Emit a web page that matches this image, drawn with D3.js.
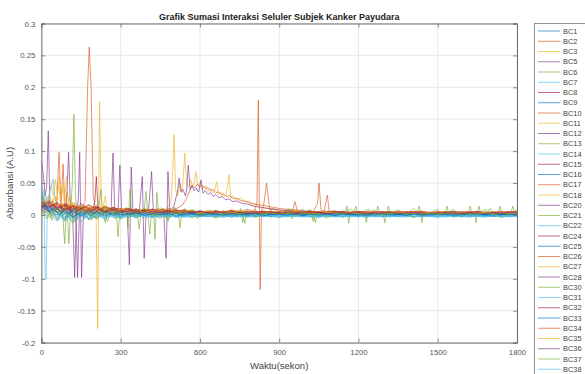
<!DOCTYPE html>
<html><head><meta charset="utf-8">
<script src="https://cdn.jsdelivr.net/npm/d3@7"></script>
<style>body{margin:0;background:#fff;overflow:hidden;} text{font-family:Arial,"Liberation Sans",Helvetica,sans-serif;}</style>
</head><body>
<svg id="chart" width="585" height="374"></svg>
<script>
const titleText = "Grafik Sumasi Interaksi Seluler Subjek Kanker Payudara";
const xLabelText = "Waktu(sekon)";
const yLabelText = "Absorbansi (A.U)";
const seriesNames = ["BC1","BC2","BC3","BC5","BC6","BC7","BC8","BC9","BC10","BC11","BC12","BC13","BC14","BC15","BC16","BC17","BC18","BC20","BC21","BC22","BC24","BC25","BC26","BC27","BC28","BC30","BC31","BC32","BC33","BC34","BC35","BC36","BC37","BC38"];
const seriesColors = ["#0072BD","#D95319","#EDB120","#7E2F8E","#77AC30","#4DBEEE","#A2142F"];
const xTicks = [0,300,600,900,1200,1500,1800];
const yTicks = [-0.2,-0.15,-0.1,-0.05,0,0.05,0.1,0.15,0.2,0.25,0.3];
const yTickLabels = ["-0.2","-0.15","-0.1","-0.05","0","0.05","0.1","0.15","0.2","0.25","0.3"];

const tBase = [0,30,60,90,120,150,180,210,240,270,300,330,360,390,420,450,480,510,540,570,600,630,660,690,720,750,780,810,840,870,900,930,960,990,1020,1050,1080,1110,1140,1170,1200,1230,1260,1290,1320,1350,1380,1410,1440,1470,1500,1530,1560,1590,1620,1650,1680,1710,1740,1770,1800];

// Series sampled on tBase
const BC1 = [0.030,0.012,0.004,0.008,-0.004,0.006,0.002,-0.005,0.004,0.001,-0.003, 0.003,-0.002,0.002,-0.004,0.001,-0.002,0.003,-0.001,0.000,-0.003, 0.001,-0.002,0.000,-0.003,0.001,-0.001,-0.002,0.000,-0.003,0.001, -0.002,0.000,-0.001,-0.003,0.001,-0.002,0.000,-0.002,0.001,-0.003, 0.000,-0.001,-0.002,0.001,-0.002,0.000,-0.003,0.000,-0.001,-0.002, 0.001,-0.002,0.000,-0.003,0.000,-0.001,-0.002,0.001,-0.002,0.000];
const BC9 = [0.025,0.008,0.010,-0.003,0.005,0.000,0.007,-0.002,0.003,0.006,0.000, 0.002,0.004,-0.001,0.003,0.000,0.002,-0.002,0.004,0.001,0.000, 0.002,-0.001,0.001,0.003,-0.001,0.000,0.002,-0.002,0.001,0.000, 0.002,-0.001,0.000,0.001,-0.002,0.001,0.000,0.002,-0.001,0.000, 0.001,-0.002,0.000,0.002,-0.001,0.000,0.001,-0.002,0.000,0.001, -0.001,0.000,0.002,-0.001,0.000,0.001,-0.002,0.000,0.001,-0.001];
const BC14 = [0.040,0.015,-0.008,0.004,-0.012,0.002,-0.006,0.003,-0.004,0.001,-0.006, 0.000,-0.004,0.002,-0.003,-0.001,-0.005,0.001,-0.002,-0.004,0.000, -0.002,-0.003,0.000,-0.004,-0.001,-0.002,-0.003,0.000,-0.002,-0.004, -0.001,-0.003,0.000,-0.002,-0.004,-0.001,-0.002,-0.003,0.000,-0.002, -0.004,-0.001,-0.002,-0.003,0.000,-0.002,-0.003,-0.001,-0.002,-0.004, 0.000,-0.002,-0.003,-0.001,-0.002,-0.003,0.000,-0.002,-0.003,-0.001];
const BC15 = [0.020,0.018,0.012,0.016,0.010,0.014,0.008,0.012,0.006,0.010,0.007, 0.009,0.006,0.008,0.005,0.007,0.006,0.008,0.005,0.006,0.004, 0.006,0.005,0.004,0.006,0.003,0.005,0.004,0.006,0.003,0.005, 0.004,0.003,0.005,0.004,0.003,0.005,0.004,0.003,0.004,0.005, 0.003,0.004,0.005,0.003,0.004,0.003,0.005,0.004,0.003,0.004, 0.005,0.003,0.004,0.003,0.005,0.004,0.003,0.004,0.003,0.004];
const BC16 = [0.015,0.010,0.004,-0.006,0.008,0.002,-0.004,0.006,0.000,0.004,-0.002, 0.003,0.000,0.004,-0.001,0.002,0.000,0.003,-0.002,0.002,0.001, 0.000,0.002,-0.001,0.001,0.002,0.000,-0.001,0.002,0.000,0.001, -0.001,0.002,0.000,0.001,-0.001,0.002,0.000,0.001,0.002,-0.001, 0.001,0.000,0.002,-0.001,0.001,0.000,0.002,0.000,-0.001,0.001, 0.002,0.000,0.001,-0.001,0.002,0.000,0.001,0.000,0.002,0.001];
const BC22 = [0.035,0.006,-0.010,0.002,-0.006,0.004,-0.008,0.000,-0.004,0.002,-0.006, -0.001,-0.004,0.001,-0.003,-0.002,0.000,-0.004,-0.001,-0.003,0.000, -0.002,-0.001,-0.003,0.000,-0.002,-0.003,-0.001,-0.002,0.000,-0.003, -0.002,-0.001,-0.003,-0.002,0.000,-0.002,-0.003,-0.001,-0.002,-0.003, -0.001,-0.002,0.000,-0.003,-0.002,-0.001,-0.002,-0.003,0.000,-0.002, -0.003,-0.001,-0.002,0.000,-0.002,-0.003,-0.001,-0.002,-0.001,-0.002];
const BC24 = [0.012,0.020,0.010,0.015,0.006,0.018,0.009,0.014,0.005,0.012,0.008, 0.010,0.006,0.009,0.004,0.008,0.005,0.007,0.004,0.006,0.005, 0.004,0.006,0.003,0.005,0.004,0.003,0.005,0.004,0.006,0.003, 0.004,0.005,0.003,0.004,0.005,0.003,0.004,0.006,0.003,0.004, 0.005,0.003,0.004,0.003,0.005,0.004,0.003,0.005,0.004,0.003, 0.004,0.005,0.003,0.004,0.005,0.003,0.004,0.003,0.005,0.004];
const BC25 = [0.028,0.005,0.009,0.002,0.006,-0.002,0.005,0.001,0.007,-0.001,0.004, 0.001,0.003,0.000,0.002,0.004,0.000,0.002,0.001,0.003,0.000, 0.002,0.001,0.000,0.002,0.001,0.003,0.000,0.001,0.002,0.000, 0.001,0.002,0.000,0.001,0.003,0.000,0.001,0.002,0.000,0.001, 0.002,0.000,0.001,0.002,0.001,0.000,0.002,0.001,0.000,0.002, 0.001,0.000,0.002,0.001,0.000,0.001,0.002,0.000,0.001,0.002];
const BC26 = [0.022,0.014,0.018,0.008,0.016,0.010,0.012,0.006,0.014,0.008,0.010, 0.006,0.009,0.005,0.008,0.006,0.010,0.004,0.007,0.005,0.006, 0.005,0.004,0.006,0.003,0.005,0.004,0.006,0.003,0.005,0.004, 0.003,0.005,0.004,0.006,0.003,0.004,0.005,0.003,0.004,0.005, 0.003,0.004,0.005,0.004,0.003,0.005,0.004,0.003,0.004,0.005, 0.003,0.004,0.003,0.005,0.004,0.003,0.004,0.005,0.003,0.004];
const BC27 = [0.018,0.030,0.012,0.022,0.008,0.014,0.006,0.016,0.004,0.010,0.006, 0.008,0.004,0.010,0.003,0.007,0.005,0.009,0.004,0.006,0.003, 0.005,0.003,0.006,0.004,0.002,0.005,0.003,0.004,0.006,0.002, 0.004,0.003,0.005,0.002,0.004,0.003,0.005,0.004,0.002,0.004, 0.003,0.005,0.002,0.004,0.003,0.004,0.002,0.005,0.003,0.004, 0.002,0.004,0.003,0.005,0.003,0.004,0.002,0.004,0.003,0.004];
const BC28 = [0.010,0.016,0.004,0.012,0.002,0.010,0.006,0.012,0.003,0.008,0.005, 0.007,0.003,0.006,0.002,0.005,0.004,0.006,0.002,0.005,0.003, 0.004,0.002,0.005,0.003,0.004,0.002,0.003,0.005,0.002,0.004, 0.003,0.002,0.004,0.003,0.005,0.002,0.003,0.004,0.002,0.003, 0.004,0.002,0.003,0.005,0.002,0.003,0.004,0.002,0.003,0.004, 0.002,0.003,0.004,0.002,0.003,0.004,0.002,0.003,0.004,0.003];
const BC30 = [0.008,0.002,0.012,-0.010,0.006,0.014,-0.008,0.010,0.000,0.012,-0.006, 0.006,-0.004,0.008,0.002,-0.006,0.006,0.001,0.008,-0.004,0.004, 0.002,0.006,-0.002,0.003,0.008,-0.003,0.002,0.001,0.006,-0.004, 0.002,0.003,0.009,-0.002,0.002,0.001,0.007,-0.004,0.003,0.002, 0.001,0.008,-0.003,0.002,0.003,0.001,0.010,-0.002,0.002,0.001, 0.006,-0.004,0.003,0.002,0.001,0.009,-0.002,0.003,0.001,0.008];
const BC31 = [0.045,0.020,0.002,-0.008,0.004,-0.010,0.000,-0.006,0.003,-0.004,0.000, -0.003,0.001,-0.002,-0.004,0.000,-0.003,-0.001,-0.002,0.000,-0.003, -0.001,-0.002,-0.004,0.000,-0.002,-0.001,-0.003,0.000,-0.002,-0.001, -0.003,0.000,-0.002,-0.001,-0.003,-0.002,0.000,-0.001,-0.003,-0.002, 0.000,-0.001,-0.003,-0.002,-0.001,0.000,-0.002,-0.003,-0.001,-0.002, 0.000,-0.003,-0.001,-0.002,0.000,-0.002,-0.001,-0.003,-0.002,-0.001];
const BC32 = [0.015,0.012,0.020,0.008,0.014,0.010,0.016,0.007,0.012,0.009,0.006, 0.008,0.005,0.007,0.009,0.004,0.006,0.005,0.008,0.004,0.005, 0.004,0.006,0.003,0.005,0.004,0.006,0.003,0.004,0.005,0.003, 0.005,0.004,0.003,0.005,0.004,0.003,0.005,0.004,0.003,0.005, 0.004,0.003,0.005,0.004,0.003,0.004,0.005,0.003,0.004,0.003, 0.005,0.004,0.003,0.004,0.005,0.003,0.004,0.003,0.004,0.005];
const BC33 = [0.020,0.004,0.000,0.006,-0.003,0.004,0.000,0.005,-0.002,0.003,0.001, 0.000,0.003,-0.001,0.002,0.000,0.003,-0.002,0.001,0.002,-0.001, 0.001,0.000,0.002,-0.001,0.001,0.000,0.002,-0.001,0.000,0.001, 0.000,0.002,-0.001,0.001,0.000,0.001,-0.001,0.002,0.000,0.001, -0.001,0.000,0.002,0.000,0.001,-0.001,0.001,0.000,0.002,0.000, 0.001,-0.001,0.000,0.002,0.001,0.000,-0.001,0.001,0.000,0.001];
const BC34 = [0.016,0.022,0.010,0.018,0.012,0.008,0.015,0.010,0.006,0.012,0.008, 0.010,0.007,0.005,0.009,0.006,0.008,0.005,0.007,0.006,0.004, 0.006,0.004,0.005,0.007,0.003,0.005,0.004,0.006,0.004,0.005, 0.003,0.006,0.004,0.005,0.003,0.004,0.006,0.004,0.003,0.005, 0.004,0.006,0.003,0.004,0.005,0.003,0.004,0.006,0.003,0.004, 0.005,0.003,0.004,0.005,0.004,0.003,0.005,0.004,0.003,0.004];
const BC35 = [0.025,0.015,0.028,0.010,0.020,0.006,0.012,0.008,0.014,0.005,0.009, 0.006,0.008,0.004,0.007,0.005,0.009,0.004,0.006,0.008,0.004, 0.006,0.004,0.005,0.003,0.006,0.004,0.005,0.003,0.004,0.006, 0.003,0.005,0.004,0.003,0.006,0.004,0.003,0.005,0.004,0.003, 0.005,0.003,0.004,0.006,0.003,0.004,0.005,0.003,0.004,0.003, 0.005,0.004,0.003,0.005,0.003,0.004,0.005,0.003,0.004,0.003];
const BC36 = [0.012,0.006,0.014,0.004,0.010,0.008,0.003,0.011,0.005,0.009,0.004, 0.006,0.008,0.003,0.006,0.004,0.007,0.003,0.005,0.004,0.006, 0.003,0.004,0.005,0.002,0.004,0.003,0.005,0.002,0.004,0.003, 0.004,0.002,0.005,0.003,0.004,0.002,0.003,0.005,0.003,0.004, 0.002,0.004,0.003,0.005,0.002,0.003,0.004,0.003,0.002,0.004, 0.003,0.005,0.002,0.004,0.003,0.002,0.004,0.003,0.004,0.003];
const BC37 = [0.006,-0.004,0.010,0.002,-0.012,0.008,0.004,-0.006,0.012,0.000,0.006, -0.004,0.004,0.010,-0.002,0.003,-0.006,0.005,0.002,0.008,-0.002, 0.003,-0.005,0.002,0.004,0.001,0.007,-0.004,0.002,0.003,0.001, 0.008,-0.002,0.003,0.001,0.002,-0.005,0.003,0.001,0.009,0.002, -0.003,0.002,0.001,0.003,0.008,0.001,-0.004,0.002,0.003,0.001, 0.002,0.009,-0.003,0.002,0.001,0.003,0.002,-0.004,0.002,0.003];
const BC38 = [0.030,0.010,-0.004,0.006,-0.008,0.002,-0.005,0.001,-0.007,0.000,-0.003, -0.001,-0.004,0.000,-0.002,-0.003,0.001,-0.002,-0.004,-0.001,-0.002, -0.003,0.000,-0.002,-0.001,-0.003,-0.002,0.000,-0.003,-0.001,-0.002, 0.000,-0.002,-0.003,-0.001,-0.002,0.000,-0.003,-0.002,-0.001,-0.002, -0.003,0.000,-0.002,-0.001,-0.003,-0.002,0.000,-0.002,-0.003,-0.001, -0.002,0.000,-0.003,-0.001,-0.002,-0.003,0.000,-0.002,-0.001,-0.002];

// Series with their own [time, value] samples
const BC2 = [[0,0.018],[10,0.012],[20,0.022],[30,0.014],[40,0.02],[50,0.01],[58,0.018],[67,0.098],[74,0.012],[82,0.08],[89,0.01],[100,0.016],[110,0.008],[120,0.014],[130,0.006],[140,0.012],[150,0.006],[158,0.014],[165,0.02],[175,0.2],[181,0.263],[188,0.2],[196,0.03],[205,0.01],[215,0.014],[230,0.006],[245,0.012],[260,0.005],[280,0.01],[300,0.004],[330,0.008],[360,0.003],[390,0.007],[420,0.003],[450,0.006],[480,0.002],[510,0.005],[540,0.003],[570,0.006],[600,0.002],[660,0.005],[720,0.003],[780,0.004],[840,0.002],[900,0.004],[960,0.003],[1020,0.005],[1080,0.002],[1140,0.004],[1200,0.003],[1260,0.004],[1320,0.002],[1380,0.004],[1440,0.003],[1500,0.004],[1560,0.002],[1620,0.004],[1680,0.003],[1740,0.004],[1800,0.003]];
const BC3 = [[0,0.012],[10,0.022],[20,0.015],[30,0.032],[38,0.048],[45,0.03],[53,0.055],[60,0.035],[68,0.06],[75,0.03],[83,0.048],[90,0.022],[98,0.035],[108,0.012],[118,0.018],[128,0.006],[138,0.012],[148,0.004],[160,0.012],[170,0.006],[182,0.01],[192,0.004],[200,0.008],[207,0.0],[213,-0.178],[220,0.177],[227,0.01],[236,0.004],[248,0.012],[262,0.004],[280,0.009],[300,0.004],[330,0.008],[360,0.004],[390,0.007],[420,0.003],[450,0.006],[480,0.004],[510,0.006],[540,0.003],[570,0.005],[600,0.003],[660,0.004],[720,0.003],[780,0.005],[840,0.003],[900,0.004],[960,0.003],[1020,0.004],[1080,0.003],[1140,0.005],[1200,0.003],[1260,0.004],[1320,0.003],[1380,0.004],[1440,0.003],[1500,0.005],[1560,0.003],[1620,0.004],[1680,0.003],[1740,0.004],[1800,0.003]];
const BC5 = [[0,0.086],[7,0.065],[14,0.03],[20,0.045],[26,0.132],[32,0.02],[40,0.012],[50,0.018],[60,0.008],[72,0.014],[85,0.006],[98,0.012],[112,0.004],[125,0.01],[140,0.005],[155,0.012],[170,0.004],[185,0.009],[200,0.003],[220,0.008],[240,0.004],[260,0.009],[280,0.003],[300,0.006],[330,0.003],[360,0.006],[390,0.003],[420,0.005],[450,0.002],[480,0.005],[510,0.003],[540,0.004],[570,0.002],[600,0.004],[660,0.003],[720,0.004],[780,0.002],[840,0.004],[900,0.003],[960,0.004],[1020,0.002],[1080,0.003],[1140,0.004],[1200,0.002],[1260,0.003],[1320,0.004],[1380,0.002],[1440,0.003],[1500,0.004],[1560,0.002],[1620,0.003],[1680,0.004],[1740,0.002],[1800,0.003]];
const BC6 = [[0,0.01],[12,0.004],[25,0.014],[38,-0.004],[50,0.01],[62,0.002],[72,0.012],[80,0.006],[88,-0.045],[96,0.02],[104,-0.045],[111,0.01],[117,0.05],[123,0.158],[129,0.03],[136,0.004],[148,0.012],[160,-0.006],[172,0.008],[185,-0.002],[198,0.01],[210,0.002],[218,0.012],[225,0.04],[232,0.004],[242,-0.012],[252,0.008],[265,0.0],[276,0.01],[283,0.008],[290,-0.034],[297,0.01],[310,0.004],[330,0.008],[360,0.002],[390,0.006],[420,0.002],[450,0.005],[480,0.001],[510,0.004],[540,0.002],[570,0.005],[600,0.002],[660,0.004],[720,0.001],[780,0.004],[840,0.002],[900,0.004],[960,0.001],[1020,0.003],[1080,0.002],[1140,0.004],[1200,0.001],[1260,0.003],[1320,0.002],[1380,0.004],[1440,0.001],[1500,0.003],[1560,0.002],[1620,0.004],[1680,0.001],[1740,0.003],[1800,0.002]];
const BC7 = [[0,0.03],[5,0.036],[10,0.02],[14,-0.095],[18,-0.1],[22,0.0],[28,0.03],[35,0.042],[44,0.056],[50,0.032],[58,0.01],[65,-0.006],[75,0.004],[85,-0.01],[95,0.0],[108,-0.006],[120,0.002],[135,-0.008],[150,0.0],[165,-0.005],[180,0.001],[200,-0.004],[220,0.0],[240,-0.006],[260,-0.001],[280,-0.004],[300,0.0],[330,-0.003],[360,-0.001],[390,-0.004],[420,-0.001],[450,-0.003],[480,0.0],[510,-0.003],[540,-0.001],[570,-0.003],[600,-0.001],[660,-0.003],[720,-0.001],[780,-0.003],[840,-0.002],[900,-0.003],[960,-0.001],[1020,-0.003],[1080,-0.002],[1140,-0.003],[1200,-0.001],[1260,-0.003],[1320,-0.002],[1380,-0.003],[1440,-0.001],[1500,-0.003],[1560,-0.002],[1620,-0.003],[1680,-0.001],[1740,-0.003],[1800,-0.002]];
const BC8 = [[0,0.02],[15,0.014],[30,0.022],[45,0.012],[60,0.018],[75,0.01],[90,0.016],[105,0.008],[120,0.015],[135,0.009],[150,0.014],[165,0.008],[180,0.012],[195,0.01],[202,0.02],[208,0.06],[214,0.012],[225,0.008],[240,0.014],[255,0.006],[270,0.012],[285,0.005],[300,0.01],[330,0.006],[360,0.009],[390,0.005],[420,0.008],[450,0.004],[480,0.007],[510,0.004],[540,0.006],[570,0.004],[600,0.005],[660,0.004],[720,0.005],[780,0.003],[840,0.005],[900,0.004],[960,0.003],[1020,0.005],[1080,0.004],[1140,0.003],[1200,0.005],[1260,0.004],[1320,0.003],[1380,0.005],[1440,0.004],[1500,0.003],[1560,0.005],[1620,0.004],[1680,0.003],[1740,0.005],[1800,0.004]];
const BC10 = [[0,0.012],[20,0.02],[40,0.01],[60,0.016],[80,0.008],[100,0.014],[120,0.006],[140,0.012],[160,0.005],[180,0.01],[200,0.006],[220,0.012],[240,0.005],[260,0.009],[280,0.004],[300,0.008],[330,0.004],[360,0.007],[390,0.003],[420,0.006],[450,0.004],[480,0.007],[510,0.004],[540,0.006],[570,0.003],[600,0.006],[630,0.004],[660,0.007],[690,0.004],[720,0.008],[750,0.005],[780,0.009],[800,0.006],[810,0.01],[816,0.02],[821,0.18],[825,0.0],[828,-0.117],[833,0.008],[840,0.012],[846,0.03],[852,0.05],[858,0.03],[864,0.008],[880,0.01],[900,0.005],[930,0.008],[950,0.006],[960,0.021],[968,0.006],[990,0.004],[1010,0.007],[1030,0.005],[1045,0.018],[1051,0.05],[1058,0.008],[1070,0.006],[1082,0.031],[1090,0.004],[1120,0.005],[1150,0.003],[1200,0.005],[1250,0.003],[1300,0.004],[1350,0.003],[1400,0.005],[1450,0.003],[1500,0.004],[1550,0.003],[1600,0.005],[1650,0.003],[1700,0.004],[1750,0.003],[1800,0.004]];
const BC11 = [[0,0.015],[20,0.008],[40,0.018],[60,0.01],[80,0.016],[100,0.006],[120,0.012],[140,0.005],[160,0.01],[180,0.004],[200,0.009],[220,0.005],[240,0.01],[260,0.004],[280,0.008],[300,0.004],[330,0.009],[360,0.005],[390,0.01],[420,0.006],[450,0.011],[470,0.008],[482,0.014],[490,0.02],[496,0.06],[502,0.126],[508,0.04],[515,0.03],[525,0.05],[532,0.035],[537,0.06],[543,0.097],[549,0.05],[556,0.044],[565,0.055],[572,0.044],[578,0.05],[585,0.068],[592,0.045],[600,0.05],[610,0.041],[620,0.046],[630,0.037],[640,0.041],[650,0.034],[657,0.04],[663,0.052],[670,0.033],[680,0.036],[690,0.028],[700,0.032],[710,0.063],[717,0.026],[725,0.03],[740,0.024],[755,0.027],[770,0.02],[785,0.022],[800,0.015],[815,0.017],[830,0.012],[860,0.01],[890,0.008],[920,0.006],[960,0.007],[1000,0.004],[1050,0.005],[1100,0.003],[1150,0.005],[1200,0.003],[1250,0.004],[1300,0.003],[1350,0.005],[1400,0.003],[1450,0.004],[1500,0.003],[1550,0.005],[1600,0.003],[1650,0.004],[1700,0.003],[1750,0.005],[1800,0.003]];
const BC12 = [[0,0.01],[15,0.004],[30,0.012],[45,0.004],[60,0.01],[75,0.003],[88,0.012],[95,0.02],[103,0.098],[110,0.01],[118,0.004],[126,-0.098],[133,0.008],[139,0.02],[145,0.098],[152,-0.098],[159,0.002],[170,0.01],[185,0.004],[200,0.01],[215,0.002],[230,0.008],[245,0.003],[255,0.012],[263,0.0],[271,0.097],[278,0.0],[285,0.01],[290,0.002],[297,0.078],[304,0.0],[315,0.01],[325,0.002],[333,-0.078],[340,0.075],[347,0.0],[358,0.01],[370,0.004],[382,0.06],[389,-0.068],[396,0.004],[406,0.01],[417,0.068],[424,0.004],[438,0.01],[452,0.0],[462,0.01],[472,-0.068],[479,0.068],[486,0.004],[500,0.01],[520,0.004],[540,0.008],[570,0.003],[600,0.006],[660,0.003],[720,0.005],[780,0.002],[840,0.004],[900,0.003],[960,0.004],[1020,0.002],[1080,0.004],[1140,0.003],[1200,0.004],[1260,0.002],[1320,0.004],[1380,0.003],[1440,0.004],[1500,0.002],[1560,0.004],[1620,0.003],[1680,0.004],[1740,0.002],[1800,0.003]];
const BC13 = [[0,0.004],[20,0.012],[40,-0.008],[60,0.01],[80,0.002],[100,0.014],[120,-0.006],[140,0.008],[160,0.0],[180,0.012],[200,-0.004],[220,0.006],[240,0.002],[260,0.01],[280,-0.006],[300,0.004],[330,0.008],[360,-0.004],[390,0.006],[420,0.0],[450,0.008],[480,-0.003],[510,0.005],[540,0.001],[570,0.006],[600,-0.002],[630,0.004],[660,0.001],[690,0.006],[720,0.0],[745,0.004],[760,0.002],[770,-0.013],[778,0.004],[800,0.002],[830,0.005],[860,0.001],[890,0.004],[920,0.002],[950,0.006],[980,0.001],[1010,0.004],[1030,0.002],[1037,-0.012],[1044,0.004],[1070,0.002],[1100,0.004],[1130,0.001],[1150,0.004],[1157,0.014],[1163,-0.013],[1170,0.004],[1183,0.003],[1190,0.014],[1197,0.002],[1223,0.003],[1230,-0.012],[1237,0.003],[1260,0.002],[1267,0.003],[1273,0.014],[1280,0.002],[1293,0.003],[1300,-0.012],[1307,0.003],[1313,0.014],[1320,0.002],[1360,0.003],[1400,0.002],[1423,0.003],[1430,0.014],[1436,0.0],[1440,-0.012],[1447,0.003],[1490,0.002],[1528,0.003],[1535,0.014],[1542,0.002],[1580,0.003],[1616,0.003],[1623,0.014],[1630,0.002],[1638,0.003],[1645,-0.012],[1650,0.003],[1656,0.014],[1663,0.002],[1700,0.003],[1728,0.002],[1735,0.014],[1742,0.002],[1777,0.003],[1784,0.014],[1791,0.002],[1800,0.003]];
const BC17 = [[0,0.02],[20,0.014],[40,0.022],[60,0.012],[80,0.018],[100,0.01],[120,0.015],[140,0.008],[160,0.013],[180,0.007],[200,0.012],[220,0.006],[240,0.01],[260,0.005],[280,0.009],[300,0.004],[330,0.008],[360,0.004],[390,0.007],[420,0.005],[450,0.008],[480,0.006],[510,0.01],[530,0.014],[545,0.022],[558,0.035],[570,0.046],[580,0.042],[590,0.048],[600,0.044],[610,0.046],[620,0.041],[630,0.043],[640,0.038],[650,0.04],[660,0.035],[670,0.036],[680,0.032],[690,0.033],[700,0.029],[712,0.03],[725,0.026],[740,0.026],[755,0.022],[770,0.022],[785,0.019],[800,0.018],[820,0.016],[840,0.015],[860,0.013],[880,0.012],[900,0.01],[930,0.009],[960,0.008],[1000,0.006],[1050,0.005],[1100,0.006],[1150,0.004],[1200,0.005],[1260,0.003],[1320,0.005],[1380,0.004],[1440,0.005],[1500,0.003],[1560,0.004],[1620,0.005],[1680,0.003],[1740,0.004],[1800,0.005]];
const BC18 = [[0,0.02],[10,0.03],[20,0.018],[30,0.025],[40,0.015],[50,0.03],[58,0.02],[65,0.045],[72,0.025],[80,0.04],[87,0.02],[95,0.06],[102,0.02],[110,0.03],[118,0.012],[128,0.02],[140,0.008],[152,0.016],[165,0.006],[178,0.012],[190,0.005],[205,0.01],[220,0.004],[235,0.014],[242,0.03],[249,0.006],[262,0.01],[280,0.004],[300,0.008],[330,0.004],[360,0.007],[390,0.003],[420,0.006],[450,0.003],[480,0.005],[510,0.003],[540,0.006],[570,0.003],[600,0.005],[660,0.003],[720,0.005],[780,0.003],[840,0.004],[900,0.003],[960,0.005],[1020,0.003],[1080,0.004],[1140,0.002],[1200,0.004],[1260,0.003],[1320,0.005],[1380,0.003],[1440,0.004],[1500,0.002],[1560,0.004],[1620,0.003],[1680,0.005],[1740,0.003],[1800,0.004]];
const BC20 = [[0,0.015],[15,0.008],[30,0.016],[45,0.006],[60,0.012],[75,0.005],[90,0.01],[105,0.004],[118,0.01],[130,0.006],[137,-0.098],[144,0.006],[155,0.012],[170,0.004],[185,0.01],[200,0.004],[220,0.009],[240,0.003],[260,0.008],[280,0.004],[300,0.007],[330,0.004],[360,0.008],[390,0.004],[420,0.007],[450,0.005],[480,0.008],[500,0.012],[510,0.028],[515,0.035],[521,0.058],[528,0.036],[536,0.04],[545,0.03],[550,0.04],[556,0.078],[563,0.04],[570,0.046],[578,0.038],[586,0.042],[595,0.036],[604,0.055],[612,0.034],[620,0.038],[630,0.032],[640,0.035],[650,0.029],[660,0.032],[672,0.027],[684,0.029],[696,0.024],[710,0.025],[725,0.021],[740,0.022],[760,0.018],[780,0.017],[800,0.014],[830,0.012],[860,0.01],[900,0.008],[950,0.006],[1000,0.005],[1060,0.004],[1120,0.003],[1180,0.004],[1240,0.002],[1300,0.004],[1360,0.003],[1420,0.004],[1480,0.002],[1540,0.004],[1600,0.003],[1660,0.004],[1720,0.002],[1800,0.003]];
const BC21 = [[0,0.006],[20,-0.006],[40,0.01],[60,-0.008],[80,0.012],[100,0.0],[115,0.01],[130,-0.01],[145,0.008],[160,0.002],[175,0.012],[190,-0.008],[205,0.006],[220,0.0],[235,0.01],[250,-0.01],[265,0.006],[280,0.002],[300,0.008],[315,0.004],[322,0.012],[328,-0.02],[335,0.04],[342,0.0],[355,0.01],[363,0.002],[370,-0.022],[378,0.006],[388,0.002],[396,0.037],[403,0.0],[410,-0.03],[417,0.006],[424,0.01],[430,-0.038],[437,0.035],[444,0.0],[455,0.01],[467,0.002],[480,-0.01],[490,0.006],[505,0.012],[518,0.002],[525,-0.02],[532,0.006],[545,0.01],[560,0.0],[575,0.008],[590,-0.006],[605,0.006],[620,0.001],[640,0.008],[660,-0.004],[680,0.006],[700,0.0],[720,0.008],[740,-0.004],[755,0.01],[762,-0.012],[770,0.004],[790,0.002],[810,0.008],[830,0.0],[850,0.006],[870,-0.004],[890,0.005],[910,0.001],[940,0.01],[948,-0.006],[960,0.003],[990,0.002],[1020,0.008],[1028,-0.01],[1036,0.004],[1060,0.002],[1090,0.006],[1120,0.001],[1150,0.004],[1200,0.002],[1240,0.009],[1248,0.0],[1280,0.003],[1320,0.002],[1350,0.004],[1380,0.002],[1410,0.003],[1460,0.002],[1500,0.009],[1508,0.001],[1550,0.003],[1590,0.002],[1620,0.004],[1680,0.002],[1700,0.01],[1708,0.001],[1750,0.003],[1800,0.002]];

// ---- build series table ----
function onGrid(vals){ const n = Math.min(vals.length, tBase.length); const out=[]; for(let i=0;i<n;i++) out.push([tBase[i], vals[i]]); return out; }
const seriesLookup = {
  BC1: onGrid(BC1), BC2: BC2, BC3: BC3, BC5: BC5, BC6: BC6, BC7: BC7, BC8: BC8, BC9: onGrid(BC9),
  BC10: BC10, BC11: BC11, BC12: BC12, BC13: BC13, BC14: onGrid(BC14), BC15: onGrid(BC15), BC16: onGrid(BC16),
  BC17: BC17, BC18: BC18, BC20: BC20, BC21: BC21, BC22: onGrid(BC22), BC24: onGrid(BC24), BC25: onGrid(BC25),
  BC26: onGrid(BC26), BC27: onGrid(BC27), BC28: onGrid(BC28), BC30: onGrid(BC30), BC31: onGrid(BC31), BC32: onGrid(BC32),
  BC33: onGrid(BC33), BC34: onGrid(BC34), BC35: onGrid(BC35), BC36: onGrid(BC36), BC37: onGrid(BC37), BC38: onGrid(BC38)
};
const series = seriesNames.map((name,i)=>({name, color: seriesColors[i % seriesColors.length], pts: seriesLookup[name]}));

// ---- layout ----
const W = 585, H = 374;
const plot = {left: 41.4, right: 517, top: 23.5, bottom: 342.6};
const svg = d3.select("#chart");
svg.append("rect").attr("width",W).attr("height",H).attr("fill","#fff");

const x = d3.scaleLinear().domain([0,1800]).range([plot.left, plot.right]);
const y = d3.scaleLinear().domain([-0.2,0.3]).range([plot.bottom, plot.top]);

// grid
const grid = svg.append("g");
grid.selectAll("line.gx").data(xTicks).join("line")
  .attr("x1",d=>x(d)).attr("x2",d=>x(d)).attr("y1",plot.top).attr("y2",plot.bottom)
  .attr("stroke","#e3e3e3").attr("stroke-width",0.8);
grid.selectAll("line.gy").data(yTicks).join("line")
  .attr("x1",plot.left).attr("x2",plot.right).attr("y1",d=>y(d)).attr("y2",d=>y(d))
  .attr("stroke","#e3e3e3").attr("stroke-width",0.8);

// clip
svg.append("clipPath").attr("id","clip").append("rect")
  .attr("x",plot.left).attr("y",plot.top).attr("width",plot.right-plot.left).attr("height",plot.bottom-plot.top);

const line = d3.line().x(d=>x(d[0])).y(d=>y(d[1]));
svg.append("g").attr("clip-path","url(#clip)")
  .selectAll("path").data(series).join("path")
  .attr("d",d=>line(d.pts)).attr("fill","none").attr("stroke",d=>d.color)
  .attr("stroke-width",0.8).attr("stroke-linejoin","round").attr("opacity",0.8);

// axes with inward ticks on all sides
const tickLen = 4;
const axisColor = "#6e6e6e";
const axB = d3.axisBottom(x).tickValues(xTicks).tickSize(-tickLen).tickPadding(7).tickFormat(d3.format("d"));
const axT = d3.axisTop(x).tickValues(xTicks).tickSize(-tickLen).tickFormat("");
const axL = d3.axisLeft(y).tickValues(yTicks).tickSize(-tickLen).tickPadding(6).tickFormat((d,i)=>yTickLabels[i]);
const axR = d3.axisRight(y).tickValues(yTicks).tickSize(-tickLen).tickFormat("");
function styleAxis(g){
  g.select(".domain").attr("stroke",axisColor).attr("stroke-width",1);
  g.selectAll(".tick line").attr("stroke",axisColor).attr("stroke-width",0.8);
  g.selectAll(".tick text").attr("fill","#555").attr("font-size","7.8px").attr("font-family","Arial, 'Liberation Sans', sans-serif");
}
svg.append("g").attr("transform",`translate(0,${plot.bottom})`).call(axB).call(styleAxis);
svg.append("g").attr("transform",`translate(0,${plot.top})`).call(axT).call(styleAxis);
svg.append("g").attr("transform",`translate(${plot.left},0)`).call(axL).call(styleAxis);
svg.append("g").attr("transform",`translate(${plot.right},0)`).call(axR).call(styleAxis);

// title and labels
const title = svg.append("text").attr("x",(plot.left+plot.right)/2).attr("y",19.5)
  .attr("text-anchor","middle").attr("font-weight","bold").attr("font-size","9px").attr("fill","#222").text(titleText);
const tl = title.node().getComputedTextLength();
if (tl > 250) title.attr("textLength",248).attr("lengthAdjust","spacingAndGlyphs");

svg.append("text").attr("x",(plot.left+plot.right)/2).attr("y",368.5).attr("text-anchor","middle")
  .attr("font-size","9.5px").attr("fill","#444").text(xLabelText);
svg.append("text").attr("transform",`translate(13,${(plot.top+plot.bottom)/2}) rotate(-90)`).attr("text-anchor","middle")
  .attr("font-size","9.5px").attr("fill","#444").text(yLabelText);

// legend
const leg = svg.append("g");
leg.append("rect").attr("x",534.5).attr("y",23.5).attr("width",60).attr("height",360)
  .attr("fill","#fff").attr("stroke","#777").attr("stroke-width",0.8);
const items = leg.selectAll("g.item").data(series).join("g").attr("class","item")
  .attr("transform",(d,i)=>`translate(0,${31 + i*10.25})`);
items.append("line").attr("x1",538).attr("x2",560).attr("y1",0).attr("y2",0)
  .attr("stroke",d=>d.color).attr("stroke-width",0.8).attr("opacity",0.8);
items.append("text").attr("x",563).attr("y",2.7).attr("font-size","7.4px").attr("fill","#444").text(d=>d.name);
</script>
</body></html>
